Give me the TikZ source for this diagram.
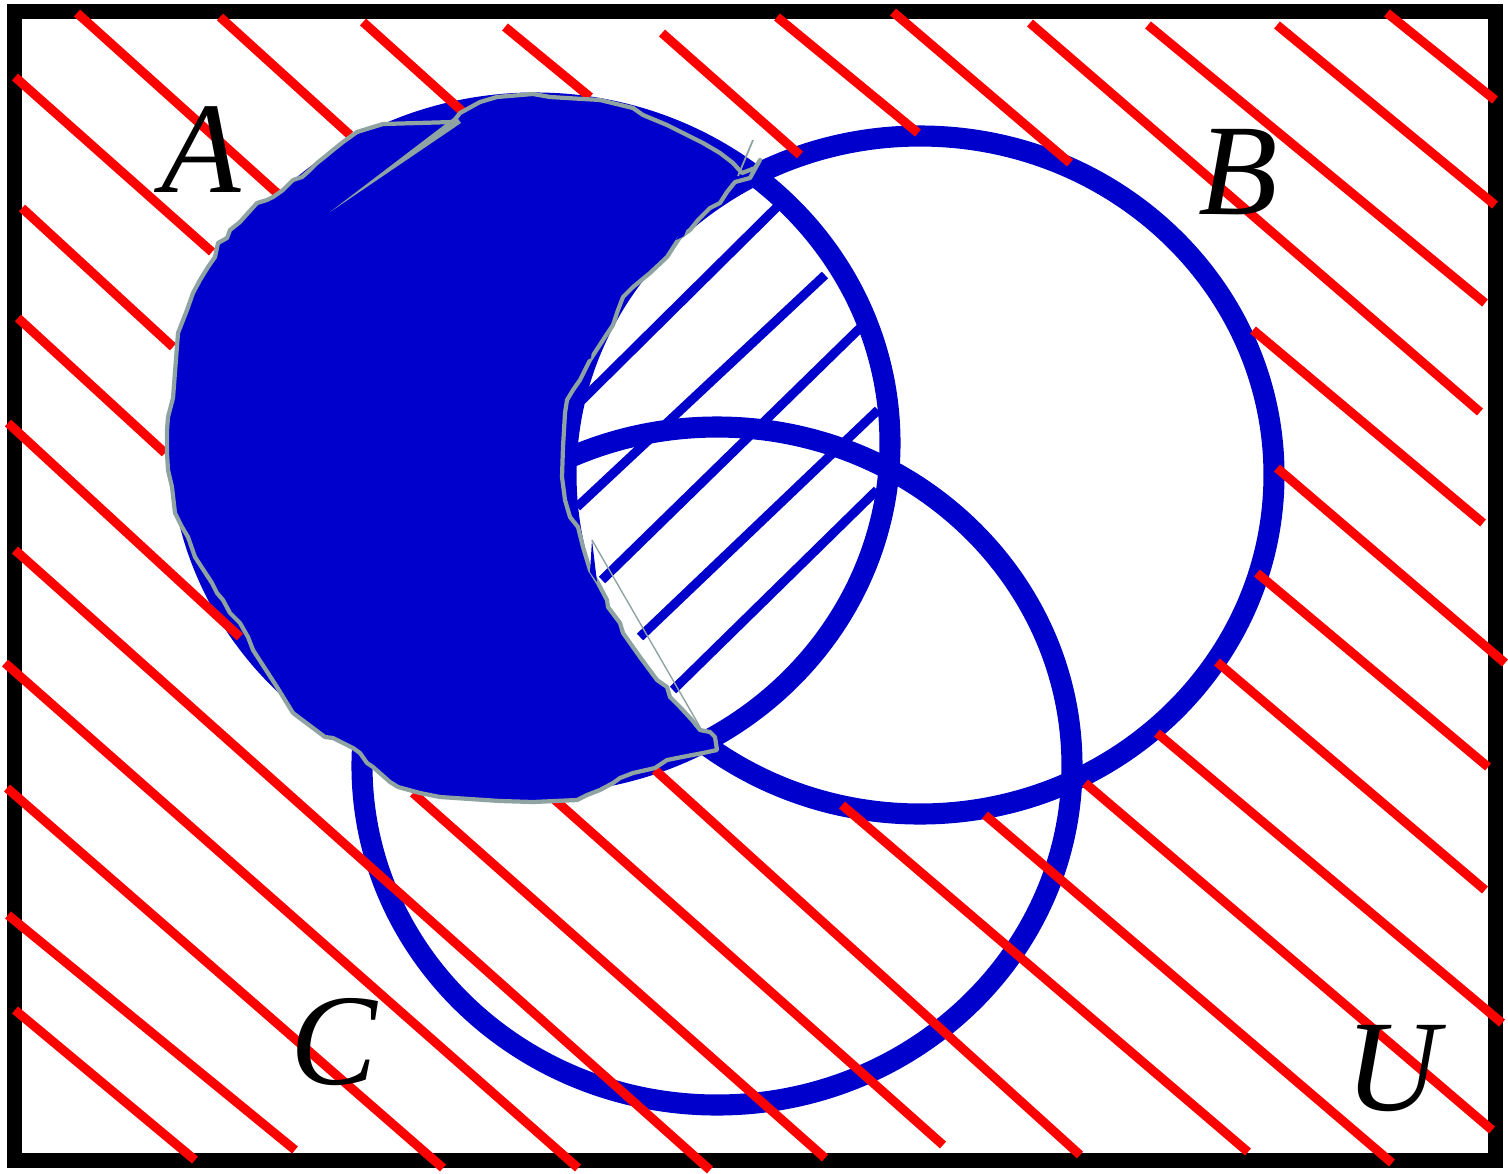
\documentclass[tikz,border=0pt]{standalone}
\usepackage{fontspec}
\setmainfont{Liberation Serif}
\definecolor{vennBlue}{RGB}{0,0,204}
\definecolor{hatchRed}{RGB}{255,0,0}
\definecolor{edgeGray}{RGB}{143,163,163}
\usepackage{tikz}

\begin{document}
\begin{tikzpicture}[x=0.1mm,y=-0.1mm,
    setline/.style={vennBlue,line width=6pt},
    redline/.style={hatchRed,line width=2.6pt},
    blueline/.style={vennBlue,line width=2.6pt},
    setname/.style={font=\fontsize{37}{40}\selectfont\itshape,inner sep=0pt}]
  \useasboundingbox (0,0) rectangle (1508,1173);
  % universe
  \draw[line width=4.3pt] (14.5,11.5) rectangle (1495.5,1160.5);
  % the three sets
  \coordinate (cA) at (535,443);
  \coordinate (cB) at (920,475);
  \coordinate (cC) at (717,766);
  \draw[setline] (cA) ellipse [x radius=35.5mm, y radius=34mm];
  \draw[setline] (cB) ellipse [x radius=35.4mm, y radius=33.9mm];
  \draw[setline] (cC) ellipse [x radius=35.5mm, y radius=33.9mm];
  % complement of A and B
  \foreach \xa/\ya/\xb/\yb in {77/13/277/193, 220/17/350/135, 363/22/463/112,
      505/27/590/97, 662/33/800/155, 777/17/918/133, 893/12/1070/163,
      1030/23/1480/412, 1148/25/1485/303, 1277/25/1495/205, 1387/13/1495/100,
      1253/330/1483/523, 1277/468/1505/663, 1257/573/1488/767, 1217/662/1485/890,
      1157/733/1502/1023, 1085/783/1492/1130, 985/815/1392/1163, 842/805/1248/1152,
      655/770/1080/1155, 555/800/943/1145, 413/793/825/1158,
      15/77/212/252, 22/208/173/347, 18/318/165/453, 8/423/240/637,
      15/550/710/1170, 5/663/578/1168, 7/788/443/1168, 8/915/295/1150,
      15/1010/195/1160}
    \draw[redline] (\xa,\ya) -- (\xb,\yb);
  % A and B
  \foreach \xa/\ya/\xb/\yb in {777/207/580/402, 825/275/577/507, 860/328/602/580,
      878/410/640/637, 877/490/673/690}
    \draw[blueline] (\xa,\ya) -- (\xb,\yb);
  % A without B
  \filldraw[fill=vennBlue,draw=edgeGray,line width=1.2pt,line join=round]
    (173,398) -- (178,333) -- (187,310) -- (193,293) -- (200,280) -- (208,267)
    -- (215,257) -- (218,243) -- (227,238) -- (230,230) -- (240,222) -- (248,213)
    -- (257,203) -- (267,200) -- (273,197) -- (283,190) -- (293,180) -- (302,177)
    -- (310,170) -- (317,163) -- (327,155) -- (333,150) -- (343,142) -- (357,132)
    -- (383,124) -- (453,122) -- (460,113) -- (480,102) -- (497,97) -- (533,94)
    -- (550,97) -- (600,100) -- (633,108) -- (643,115) -- (667,125) -- (677,130)
    -- (703,143) -- (720,153) -- (733,163) -- (742,173) -- (755,168) -- (760,160)
    -- (750,178) -- (735,182) -- (727,192) -- (720,203) -- (710,208) -- (698,220)
    -- (690,230) -- (680,237) -- (667,257) -- (650,273) -- (633,287) -- (623,297)
    -- (618,310) -- (613,325) -- (605,337) -- (590,360) -- (580,380) -- (573,390)
    -- (567,400) -- (565,413) -- (563,447) -- (562,477) -- (565,500) -- (570,517)
    -- (578,527) -- (583,547) -- (590,570) -- (598,583) -- (607,600) -- (608,607)
    -- (620,623) -- (623,633) -- (640,657) -- (657,680) -- (667,687) -- (670,697)
    -- (680,707) -- (692,720) -- (700,730) -- (710,732) -- (715,737) -- (717,750)
    -- (703,753) -- (682,757) -- (667,760) -- (655,768) -- (633,773) -- (620,778)
    -- (613,783) -- (600,790) -- (587,795) -- (577,800) -- (533,802) -- (500,801)
    -- (440,797) -- (420,793) -- (398,787) -- (390,782) -- (373,767) -- (367,763)
    -- (360,753) -- (353,748) -- (333,738) -- (325,737) -- (293,713) -- (277,687)
    -- (253,650) -- (248,637) -- (240,623) -- (230,613) -- (223,600) -- (217,593)
    -- (212,583) -- (195,557) -- (188,537) -- (182,527) -- (175,513) -- (172,487)
    -- (168,470) -- (167,453) -- (167,430) -- (168,417) -- cycle;
  % slips of the pen
  \fill[edgeGray] (330,212) -- (456,116) -- (461,123) -- cycle;
  \fill[vennBlue] (243,222) -- (267,221) -- (245,227) -- cycle;
  \fill[vennBlue] (697,200) -- (676,240) -- (684,236) -- cycle;
  \fill[vennBlue] (595,322) -- (583,362) -- (591,358) -- cycle;
  \fill[vennBlue] (592,540) -- (590,572) -- (597,582) -- cycle;
  \draw[edgeGray,line width=0.4pt] (592,540) -- (700,727);
  \draw[edgeGray,line width=0.5pt] (753,140) -- (738,176);
  % names
  \node[setname] (labA) at (201,150) {A};
  \node[setname] (labB) at (1238,172) {B};
  \node[setname] (labC) at (334,1042) {C};
  \node[setname] (labU) at (1392,1069) {U};
\end{tikzpicture}
\end{document}
